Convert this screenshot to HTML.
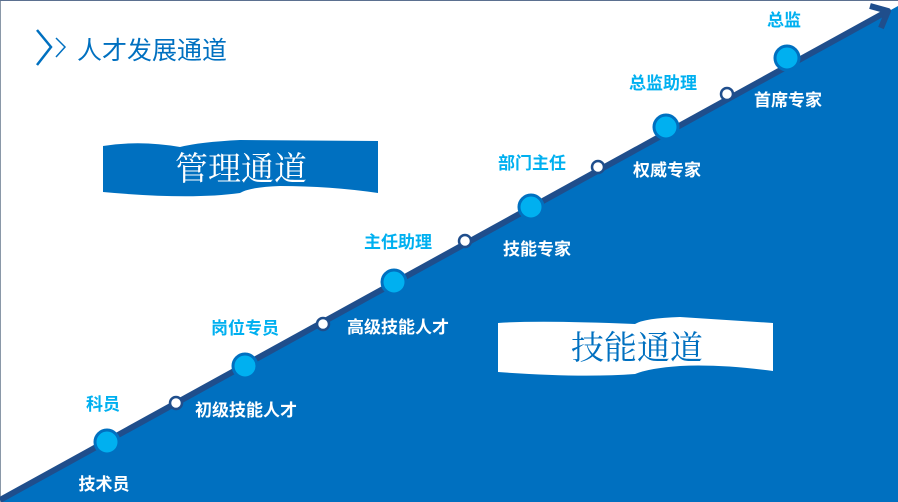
<!DOCTYPE html>
<html><head><meta charset="utf-8"><style>
html,body{margin:0;padding:0;background:#fff}
svg{display:block}
text{font-family:"Liberation Sans","Noto Sans CJK SC",sans-serif}
text.s{font-family:"Liberation Serif","Noto Serif CJK SC",serif}
.c{fill:#00b0f0;font-weight:bold;font-size:17px}
.w{fill:#fff;font-weight:bold;font-size:17px}
</style></head><body>
<svg width="898" height="502" viewBox="0 0 898 502" xmlns="http://www.w3.org/2000/svg">
<rect x="0" y="0" width="898" height="502" fill="#fff"/>
<polygon points="0,500 898,6 898,502 0,502" fill="#0070c0"/>
<line x1="0.5" y1="0" x2="0.5" y2="502" stroke="#8a98a8" stroke-width="1"/>
<line x1="0" y1="0.5" x2="898" y2="0.5" stroke="#5b7090" stroke-width="1"/>
<line x1="0" y1="500" x2="886" y2="12" stroke="#1f4e8c" stroke-width="6"/>
<polyline points="870,6 888,11 881,28" fill="none" stroke="#1f4e8c" stroke-width="6" stroke-linejoin="round"/>
<polyline points="37,30 51,47 37,65" fill="none" stroke="#0070c0" stroke-width="2.5"/>
<polyline points="56,38 65,47 56,57" fill="none" stroke="#0070c0" stroke-width="1.5"/>
<text x="77" y="59" font-size="25" fill="#0070c0">人才发展通道</text>
<path d="M103,146 Q140,140 180,147 Q200,142 240,140 L378,141 L378,193 Q330,186 280,186 Q250,187 240,193 Q190,200 103,192 Z" fill="#0070c0"/>
<text class="s" x="241" y="180" text-anchor="middle" font-size="33" fill="#fff">管理通道</text>
<path d="M498,323 Q540,320 635,324 Q645,318 680,317 L773,323 L773,371 Q720,364 680,366 Q650,368 635,374 Q580,378 498,372 Z" fill="#fff"/>
<text class="s" x="637" y="359" text-anchor="middle" font-size="33" fill="#0070c0">技能通道</text>
<g fill="#00b0f0" stroke="#0070c0" stroke-width="3">
<circle cx="107" cy="442" r="12"/><circle cx="245" cy="366" r="12"/><circle cx="394" cy="282" r="12"/>
<circle cx="531" cy="207" r="12"/><circle cx="666" cy="127" r="12"/><circle cx="787" cy="58" r="12"/>
</g>
<g fill="#fff" stroke="#1f4e8c" stroke-width="2.5">
<circle cx="176" cy="403" r="6"/><circle cx="323" cy="324" r="6"/><circle cx="465" cy="241" r="6"/>
<circle cx="598" cy="167" r="6"/><circle cx="727" cy="94" r="6"/>
</g>
<text class="c" x="103" y="410" text-anchor="middle">科员</text>
<text class="c" x="245" y="334" text-anchor="middle">岗位专员</text>
<text class="c" x="398" y="248" text-anchor="middle">主任助理</text>
<text class="c" x="532" y="169" text-anchor="middle">部门主任</text>
<text class="c" x="663" y="89" text-anchor="middle">总监助理</text>
<text class="c" x="784" y="26" text-anchor="middle">总监</text>
<text class="w" x="104" y="490" text-anchor="middle">技术员</text>
<text class="w" x="246" y="416" text-anchor="middle">初级技能人才</text>
<text class="w" x="398" y="333" text-anchor="middle">高级技能人才</text>
<text class="w" x="537" y="255" text-anchor="middle">技能专家</text>
<text class="w" x="667" y="176" text-anchor="middle">权威专家</text>
<text class="w" x="788" y="106" text-anchor="middle">首席专家</text>
</svg>
</body></html>
